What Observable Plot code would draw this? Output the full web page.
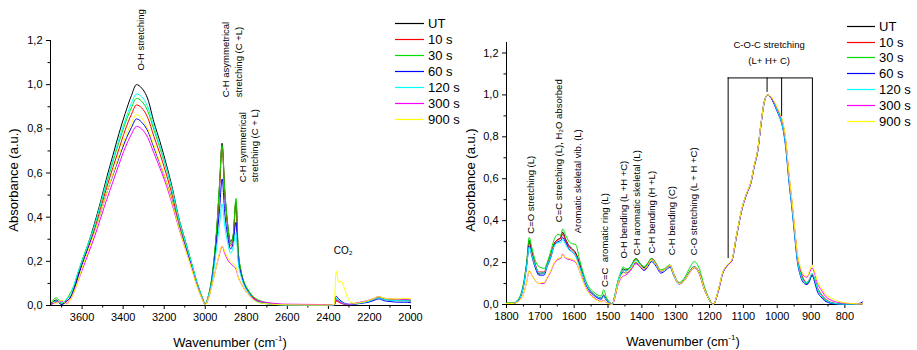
<!DOCTYPE html>
<html>
<head>
<meta charset="utf-8">
<script src="https://cdn.jsdelivr.net/npm/d3@7"></script>
<script src="https://cdn.jsdelivr.net/npm/@observablehq/plot@0.6"></script>
<style>
  body { margin: 0; background: #fff; }
  #wrap { position: relative; width: 917px; height: 350px; font-family: "Liberation Sans", Arial, sans-serif; color: #000; overflow: hidden; }
  .panel { position: absolute; top: 0; }
  .ttl { position: absolute; white-space: nowrap; font-size: 13px; transform: translate(-50%, -50%); }
  .ttl.rot { transform: translate(-50%, -50%) rotate(-90deg); }
  .ttl sup { font-size: 8px; }
  .legend { position: absolute; font-size: 13px; }
  .legend .row { display: flex; align-items: center; }
  .legend svg { display: block; margin-right: 4px; }
</style>
</head>
<body>
<div id="wrap">
  <div id="left" class="panel" style="left:0px"></div>
  <div id="right" class="panel" style="left:458px"></div>
  <div class="ttl rot" style="left:13px; top:180px">Absorbance (a.u.)</div>
  <div class="ttl" style="left:230px; top:342px">Wavenumber (cm<sup>-1</sup>)</div>
  <div class="ttl rot" style="left:470px; top:180px">Absorbance (a.u.)</div>
  <div class="ttl" style="left:683px; top:341px">Wavenumber (cm<sup>-1</sup>)</div>
  <div id="legL" class="legend" style="left:395px; top:15px"></div>
  <div id="legR" class="legend" style="left:847px; top:18.5px"></div>
</div>
<script>
// ---------- series names and colours ----------
const SERIES = ["UT", "10 s", "30 s", "60 s", "120 s", "300 s", "900 s"];
const COLORS = ["#000000", "#ff0000", "#00e000", "#0000ff", "#00ffff", "#ff00ff", "#ffff00"];

// ---------- left panel: 3750–2000 cm-1 ----------
const L_X = [3750, 3725, 3700, 3675, 3655, 3640, 3620, 3600, 3570, 3540,
             3510, 3480, 3450, 3420, 3390, 3360, 3335, 3310, 3280, 3250,
             3220, 3190, 3160, 3130, 3100, 3070, 3040, 3015, 3000, 2985,
             2965, 2945, 2930, 2918, 2905, 2890, 2877, 2865, 2850, 2840,
             2825, 2810, 2790, 2765, 2740, 2700, 2650, 2600, 2500, 2400,
             2372, 2362, 2350, 2338, 2325, 2310, 2292, 2270, 2240, 2200,
             2175, 2155, 2130, 2100, 2060, 2030, 2000];
const L_UT = [0.01, 0.025, 0.005, 0.02, 0.04, 0.08, 0.14, 0.20, 0.28, 0.37,
              0.47, 0.58, 0.68, 0.78, 0.87, 0.95, 1.00, 0.985, 0.935, 0.83,
              0.74, 0.64, 0.53, 0.40, 0.30, 0.20, 0.10, 0.035, 0.005, 0.04,
              0.14, 0.33, 0.55, 0.735, 0.52, 0.36, 0.29, 0.31, 0.47, 0.25,
              0.15, 0.10, 0.065, 0.035, 0.02, 0.01, 0.005, 0.003, 0.002, 0.002,
              0.002, 0.025, 0.02, 0.012, 0.008, 0.005, 0.004, 0.008, 0.012, 0.02,
              0.03, 0.035, 0.028, 0.025, 0.022, 0.022, 0.02];
const L_10 = [0.005, 0.02, 0.01, 0.02, 0.04, 0.07, 0.13, 0.19, 0.265, 0.345,
              0.44, 0.535, 0.625, 0.71, 0.795, 0.865, 0.908, 0.895, 0.85, 0.765,
              0.685, 0.595, 0.495, 0.38, 0.285, 0.195, 0.1, 0.035, 0.005, 0.04,
              0.14, 0.33, 0.54, 0.72, 0.51, 0.35, 0.27, 0.30, 0.47, 0.25,
              0.15, 0.10, 0.065, 0.035, 0.02, 0.01, 0.005, 0.003, 0.002, 0.002,
              0.002, 0.02, 0.015, 0.01, 0.006, 0.004, 0.004, 0.008, 0.013, 0.022,
              0.03, 0.036, 0.03, 0.026, 0.024, 0.025, 0.022];
const L_30 = [0.015, 0.035, 0.01, 0.03, 0.06, 0.09, 0.15, 0.205, 0.28, 0.36,
              0.455, 0.555, 0.65, 0.74, 0.825, 0.895, 0.938, 0.925, 0.88, 0.795,
              0.71, 0.62, 0.515, 0.395, 0.3, 0.205, 0.105, 0.04, 0.008, 0.045,
              0.15, 0.34, 0.56, 0.725, 0.52, 0.36, 0.28, 0.31, 0.485, 0.26,
              0.155, 0.105, 0.07, 0.04, 0.025, 0.012, 0.006, 0.004, 0.003, 0.002,
              0.002, 0.03, 0.02, 0.012, 0.008, 0.005, 0.005, 0.009, 0.014, 0.023,
              0.032, 0.038, 0.03, 0.027, 0.025, 0.026, 0.024];
const L_60 = [0.01, 0.02, 0.005, 0.02, 0.04, 0.07, 0.13, 0.185, 0.26, 0.335,
              0.42, 0.51, 0.59, 0.67, 0.745, 0.805, 0.845, 0.83, 0.79, 0.715,
              0.64, 0.56, 0.47, 0.365, 0.275, 0.19, 0.095, 0.033, 0.005, 0.035,
              0.13, 0.29, 0.44, 0.573, 0.42, 0.31, 0.256, 0.28, 0.377, 0.22,
              0.14, 0.095, 0.06, 0.03, 0.015, 0.008, 0.004, 0.002, 0.001, 0.001,
              0.003, 0.042, 0.03, 0.02, 0.012, 0.006, 0.004, 0.006, 0.01, 0.016,
              0.024, 0.03, 0.022, 0.018, 0.015, 0.015, 0.013];
const L_120 = [0.005, 0.02, 0.01, 0.03, 0.05, 0.09, 0.15, 0.20, 0.28, 0.36,
               0.46, 0.565, 0.66, 0.755, 0.84, 0.915, 0.958, 0.945, 0.9, 0.81,
               0.72, 0.625, 0.52, 0.395, 0.295, 0.2, 0.1, 0.035, 0.005, 0.04,
               0.12, 0.26, 0.37, 0.46, 0.36, 0.28, 0.237, 0.26, 0.33, 0.20,
               0.13, 0.09, 0.06, 0.03, 0.015, 0.008, 0.004, 0.002, 0.002, 0.002,
               0.002, 0.032, 0.025, 0.015, 0.01, 0.006, 0.005, 0.008, 0.012, 0.02,
               0.03, 0.034, 0.028, 0.024, 0.022, 0.022, 0.02];
const L_300 = [0.005, 0.015, 0.02, 0.01, 0.03, 0.06, 0.11, 0.16, 0.235, 0.31,
               0.395, 0.48, 0.56, 0.64, 0.715, 0.775, 0.811, 0.8, 0.76, 0.69,
               0.62, 0.545, 0.455, 0.355, 0.265, 0.18, 0.09, 0.03, 0.005, 0.03,
               0.1, 0.18, 0.235, 0.268, 0.235, 0.205, 0.19, 0.18, 0.165, 0.13,
               0.1, 0.075, 0.05, 0.03, 0.02, 0.014, 0.008, 0.006, 0.005, 0.004,
               0.004, 0.025, 0.02, 0.012, 0.008, 0.006, 0.006, 0.01, 0.016, 0.025,
               0.034, 0.04, 0.033, 0.03, 0.028, 0.028, 0.026];
const L_900 = [0.02, 0.01, 0.025, 0.005, 0.03, 0.06, 0.11, 0.17, 0.25, 0.33,
               0.42, 0.51, 0.595, 0.68, 0.76, 0.825, 0.864, 0.85, 0.8, 0.725,
               0.645, 0.56, 0.465, 0.36, 0.265, 0.175, 0.085, 0.028, 0.003, 0.03,
               0.1, 0.18, 0.24, 0.271, 0.245, 0.215, 0.2, 0.19, 0.175, 0.13,
               0.1, 0.075, 0.05, 0.025, 0.012, 0.008, 0.004, 0.003, 0.002, 0.002,
               0.005, 0.155, 0.105, 0.11, 0.085, 0.045, 0.015, 0.01, 0.014, 0.024,
               0.034, 0.04, 0.034, 0.03, 0.03, 0.032, 0.03];

// ---------- right panel: 1800–750 cm-1 ----------
const R_X = [1800, 1780, 1765, 1750, 1740, 1733, 1725, 1715, 1704, 1695,
             1689, 1680, 1670, 1659, 1648, 1640, 1634, 1625, 1615, 1605,
             1595, 1585, 1575, 1565, 1555, 1543, 1530, 1520, 1513, 1505,
             1496, 1487, 1480, 1472, 1462, 1455, 1448, 1440, 1430, 1418,
             1405, 1393, 1382, 1371, 1358, 1344, 1330, 1317, 1305, 1290,
             1275, 1260, 1245, 1230, 1216, 1200, 1189, 1175, 1161, 1145,
             1134, 1120, 1102, 1090, 1078, 1068, 1058, 1048, 1039, 1029,
             1020, 1009, 1000, 990, 984, 975, 965, 956, 948, 941,
             932, 920, 912, 905, 897, 890, 881, 870, 860, 851,
             840, 831, 820, 800, 780, 760, 748];
const R_UT = [0.005, 0.005, 0.02, 0.09, 0.2, 0.305, 0.25, 0.19, 0.145, 0.15,
              0.15, 0.19, 0.23, 0.29, 0.31, 0.32, 0.345, 0.31, 0.28, 0.265,
              0.245, 0.2, 0.15, 0.1, 0.07, 0.05, 0.035, 0.03, 0.045, 0.025,
              0.01, 0.002, 0.04, 0.1, 0.15, 0.17, 0.165, 0.17, 0.19, 0.22,
              0.195, 0.175, 0.195, 0.22, 0.195, 0.16, 0.17, 0.185, 0.14, 0.1,
              0.115, 0.155, 0.18, 0.15, 0.08, 0.02, 0.0, 0.06, 0.15, 0.19,
              0.21, 0.33, 0.47, 0.53, 0.58, 0.66, 0.73, 0.86, 0.96, 1.0,
              0.99, 0.96, 0.93, 0.895, 0.86, 0.77, 0.6, 0.47, 0.34, 0.23,
              0.16, 0.11, 0.10, 0.115, 0.14, 0.12, 0.075, 0.045, 0.025, 0.015,
              0.008, 0.005, 0.003, 0.002, 0.002, 0.002, 0.005];
const R_10 = [0.005, 0.005, 0.02, 0.09, 0.2, 0.295, 0.245, 0.19, 0.155, 0.155,
              0.155, 0.19, 0.235, 0.29, 0.31, 0.315, 0.335, 0.305, 0.275, 0.26,
              0.24, 0.195, 0.145, 0.1, 0.07, 0.05, 0.035, 0.03, 0.04, 0.022,
              0.01, 0.002, 0.04, 0.1, 0.145, 0.165, 0.16, 0.165, 0.185, 0.215,
              0.19, 0.17, 0.19, 0.215, 0.19, 0.16, 0.17, 0.185, 0.14, 0.1,
              0.115, 0.15, 0.175, 0.145, 0.075, 0.02, 0.0, 0.06, 0.15, 0.19,
              0.21, 0.33, 0.47, 0.53, 0.58, 0.66, 0.73, 0.86, 0.96, 1.0,
              0.99, 0.96, 0.93, 0.895, 0.865, 0.775, 0.605, 0.475, 0.345, 0.235,
              0.165, 0.115, 0.105, 0.12, 0.145, 0.125, 0.08, 0.05, 0.03, 0.018,
              0.01, 0.006, 0.004, 0.002, 0.002, 0.002, 0.004];
const R_30 = [0.008, 0.008, 0.025, 0.1, 0.21, 0.32, 0.27, 0.21, 0.18, 0.175,
              0.17, 0.2, 0.25, 0.31, 0.335, 0.33, 0.36, 0.33, 0.3, 0.29,
              0.285, 0.22, 0.16, 0.11, 0.08, 0.06, 0.045, 0.04, 0.07, 0.035,
              0.012, 0.002, 0.045, 0.105, 0.155, 0.18, 0.17, 0.17, 0.19, 0.22,
              0.195, 0.18, 0.2, 0.22, 0.195, 0.165, 0.175, 0.19, 0.145, 0.105,
              0.125, 0.17, 0.205, 0.17, 0.09, 0.025, 0.0, 0.06, 0.15, 0.19,
              0.21, 0.33, 0.47, 0.53, 0.58, 0.66, 0.73, 0.86, 0.96, 1.0,
              0.99, 0.96, 0.93, 0.89, 0.855, 0.765, 0.595, 0.465, 0.335, 0.225,
              0.155, 0.108, 0.10, 0.115, 0.14, 0.12, 0.075, 0.045, 0.025, 0.015,
              0.008, 0.005, 0.003, 0.002, 0.002, 0.002, 0.004];
const R_60 = [0.005, 0.005, 0.02, 0.085, 0.19, 0.28, 0.23, 0.175, 0.14, 0.14,
              0.14, 0.18, 0.22, 0.28, 0.3, 0.305, 0.32, 0.295, 0.265, 0.25,
              0.23, 0.19, 0.14, 0.095, 0.065, 0.045, 0.03, 0.025, 0.04, 0.02,
              0.008, 0.0, 0.035, 0.09, 0.14, 0.155, 0.15, 0.155, 0.175, 0.2,
              0.18, 0.162, 0.182, 0.205, 0.182, 0.15, 0.162, 0.178, 0.135, 0.098,
              0.112, 0.15, 0.178, 0.148, 0.078, 0.02, 0.0, 0.06, 0.15, 0.19,
              0.21, 0.33, 0.47, 0.53, 0.58, 0.66, 0.73, 0.86, 0.96, 1.0,
              0.99, 0.955, 0.92, 0.88, 0.845, 0.75, 0.58, 0.45, 0.32, 0.21,
              0.14, 0.1, 0.095, 0.11, 0.14, 0.11, 0.06, 0.035, 0.018, 0.01,
              0.005, 0.003, 0.002, 0.002, 0.002, 0.004, 0.012];
const R_120 = [0.005, 0.005, 0.02, 0.085, 0.19, 0.275, 0.235, 0.185, 0.15, 0.15,
               0.15, 0.185, 0.225, 0.28, 0.295, 0.295, 0.31, 0.285, 0.26, 0.25,
               0.23, 0.185, 0.14, 0.1, 0.07, 0.05, 0.035, 0.03, 0.04, 0.022,
               0.01, 0.002, 0.04, 0.1, 0.15, 0.165, 0.16, 0.165, 0.185, 0.21,
               0.19, 0.17, 0.19, 0.21, 0.188, 0.158, 0.168, 0.182, 0.138, 0.1,
               0.114, 0.152, 0.178, 0.148, 0.078, 0.02, 0.0, 0.06, 0.15, 0.19,
               0.21, 0.33, 0.47, 0.53, 0.58, 0.66, 0.73, 0.86, 0.96, 1.0,
               0.99, 0.96, 0.925, 0.885, 0.85, 0.76, 0.59, 0.46, 0.33, 0.22,
               0.15, 0.11, 0.105, 0.12, 0.15, 0.125, 0.075, 0.045, 0.025, 0.015,
               0.008, 0.005, 0.003, 0.002, 0.002, 0.002, 0.004];
const R_300 = [0.005, 0.005, 0.015, 0.05, 0.11, 0.16, 0.14, 0.115, 0.1, 0.1,
               0.1, 0.125, 0.155, 0.195, 0.215, 0.22, 0.24, 0.22, 0.215, 0.21,
               0.2, 0.165, 0.12, 0.08, 0.055, 0.035, 0.02, 0.015, 0.02, 0.01,
               0.005, 0.0, 0.03, 0.085, 0.125, 0.135, 0.14, 0.15, 0.17, 0.195,
               0.18, 0.168, 0.19, 0.215, 0.19, 0.158, 0.17, 0.185, 0.14, 0.1,
               0.113, 0.15, 0.177, 0.148, 0.078, 0.02, 0.0, 0.06, 0.15, 0.19,
               0.21, 0.33, 0.47, 0.53, 0.58, 0.66, 0.73, 0.86, 0.96, 1.0,
               0.99, 0.965, 0.935, 0.9, 0.87, 0.785, 0.615, 0.485, 0.355, 0.245,
               0.175, 0.135, 0.13, 0.15, 0.175, 0.15, 0.1, 0.07, 0.045, 0.03,
               0.02, 0.014, 0.01, 0.006, 0.004, 0.003, 0.003];
const R_900 = [0.005, 0.005, 0.015, 0.05, 0.11, 0.163, 0.14, 0.115, 0.1, 0.105,
               0.105, 0.13, 0.16, 0.2, 0.22, 0.225, 0.235, 0.225, 0.22, 0.215,
               0.205, 0.165, 0.115, 0.075, 0.05, 0.03, 0.018, 0.012, 0.02, 0.008,
               0.003, 0.0, 0.035, 0.09, 0.135, 0.15, 0.15, 0.158, 0.178, 0.205,
               0.185, 0.17, 0.19, 0.215, 0.19, 0.16, 0.17, 0.188, 0.14, 0.1,
               0.113, 0.15, 0.177, 0.148, 0.078, 0.02, 0.0, 0.065, 0.155, 0.195,
               0.215, 0.335, 0.475, 0.535, 0.585, 0.665, 0.735, 0.865, 0.96, 1.0,
               0.995, 0.97, 0.94, 0.905, 0.875, 0.79, 0.62, 0.49, 0.36, 0.25,
               0.18, 0.14, 0.135, 0.16, 0.187, 0.16, 0.11, 0.08, 0.055, 0.04,
               0.03, 0.022, 0.015, 0.008, 0.005, 0.003, 0.003];

// ---------- ticks ----------
const L_XTICKS = [3600, 3400, 3200, 3000, 2800, 2600, 2400, 2200, 2000];
const L_XMINOR = [3700, 3500, 3300, 3100, 2900, 2700, 2500, 2300, 2100];
const R_XTICKS = [1800, 1700, 1600, 1500, 1400, 1300, 1200, 1100, 1000, 900, 800];
const R_XMINOR = [1750, 1650, 1550, 1450, 1350, 1250, 1150, 1050, 950, 850];
const YTICKS = [0, 0.2, 0.4, 0.6, 0.8, 1.0, 1.2];
const YMINOR = [0.1, 0.3, 0.5, 0.7, 0.9, 1.1];

// ---------- annotations ----------
const L_ANN_TEXT = ["O-H stretching", "C-H asymmetrical\nstretching (C +L)", "C-H symmetrical\nstretching (C + L)"];
const L_ANN_WN = [3316, 2872, 2793];
const L_ANN_Y = [1.064, 0.943, 0.558];
const CO2_TEXT = ["CO\u2082"];
const CO2_WN = [2328];
const CO2_Y = [0.249];

const R_ANN_TEXT = ["C=O stretching (L)", "C=C stretching (L), H\u2082O absorbed", "Aromatic skeletal vib. (L)",
                    "C=C  aromatic ring (L)", "O-H bending (L +H +C)", "C-H aromatic skeletal (L)",
                    "C-H bending (H +L)", "C-H bending (C)", "C-O stretching (L + H +C)"];
const R_ANN_WN = [1728, 1644, 1588, 1509, 1452, 1415, 1370, 1312, 1245];
const R_ANN_Y = [0.338, 0.393, 0.34, 0.084, 0.219, 0.235, 0.243, 0.235, 0.235];
const COC_TEXT = ["C-O-C stretching", "(L+ H+ C)"];
const COC_WN = [1024, 1024];
const COC_Y = [1.238, 1.163];
const BR_TOP = 1.081;
const BR_X = [1145, 1030, 987, 896];
const BR_BOTTOM = [0.219, 1.012, 0.897, 0.187];

// ---------- drawing ----------
const FONT = '"Liberation Sans", Arial, sans-serif';
const fmtY = d => d.toFixed(1).replace(".", ",");
const rows = (xs, ys) => xs.map((x, i) => ({x, y: ys[i]}));

function panel(o) {
  const marks = [
    Plot.axisY({ticks: YMINOR, tickSize: 2.5, tickFormat: () => "", label: null}),
    Plot.axisY({ticks: YTICKS, tickSize: 4, tickPadding: 4, tickFormat: fmtY, label: null}),
    Plot.axisX({ticks: o.xMinor, tickSize: 2.5, tickFormat: () => "", label: null}),
    Plot.axisX({ticks: o.xTicks, tickSize: 4, tickPadding: 4, tickFormat: d => String(d), label: null}),
    Plot.ruleX([o.xDomain[0]], {stroke: "black"}),
    Plot.ruleY([0], {stroke: "black"})
  ];
  o.series.forEach((vals, k) => {
    marks.push(Plot.line(rows(o.X, vals), {x: "x", y: "y", stroke: COLORS[k], strokeWidth: 1, curve: "monotone-x"}));
  });
  marks.push(...o.extra);
  return Plot.plot({
    width: o.width, height: 350,
    marginLeft: o.ml, marginRight: o.mr, marginTop: o.mt, marginBottom: o.mb,
    style: {fontFamily: FONT, fontSize: "11px", background: "white", color: "black", overflow: "visible"},
    x: {domain: o.xDomain, label: null},
    y: {domain: o.yDomain, label: null},
    marks
  });
}

const annRows = (t, xs, ys) => t.map((s, i) => ({t: s, x: xs[i], y: ys[i]}));

const left = panel({
  width: 458, ml: 50, mr: 48, mt: 40, mb: 45,
  xDomain: [3754, 2000], yDomain: [0, 1.2],
  xTicks: L_XTICKS, xMinor: L_XMINOR,
  X: L_X, series: [L_UT, L_10, L_30, L_60, L_120, L_300, L_900],
  extra: [
    Plot.text(annRows(L_ANN_TEXT, L_ANN_WN, L_ANN_Y), {x: "x", y: "y", text: "t", rotate: -90, textAnchor: "start",
      fontSize: 9.5, lineHeight: 1.3, fill: "black", fontFamily: FONT}),
    Plot.text(annRows(CO2_TEXT, CO2_WN, CO2_Y), {x: "x", y: "y", text: "t", textAnchor: "middle",
      fontSize: 10, fill: "black", fontFamily: FONT})
  ]
});

const right = panel({
  width: 459, ml: 48, mr: 55, mt: 42, mb: 46,
  xDomain: [1800, 748], yDomain: [0, 1.25],
  xTicks: R_XTICKS, xMinor: R_XMINOR,
  X: R_X, series: [R_UT, R_10, R_30, R_60, R_120, R_300, R_900],
  extra: [
    Plot.ruleY([{y: BR_TOP, x1: BR_X[0], x2: BR_X[BR_X.length - 1]}], {y: "y", x1: "x1", x2: "x2", stroke: "black"}),
    Plot.ruleX(BR_X.map((x, i) => ({x, y1: BR_BOTTOM[i], y2: BR_TOP})), {x: "x", y1: "y1", y2: "y2", stroke: "black"}),
    Plot.text(annRows(R_ANN_TEXT, R_ANN_WN, R_ANN_Y), {x: "x", y: "y", text: "t", rotate: -90, textAnchor: "start",
      fontSize: 9.5, fill: "black", fontFamily: FONT}),
    Plot.text(annRows(COC_TEXT, COC_WN, COC_Y), {x: "x", y: "y", text: "t", textAnchor: "middle",
      fontSize: 9.5, fill: "black", fontFamily: FONT})
  ]
});

document.getElementById("left").appendChild(left);
document.getElementById("right").appendChild(right);

const SVGNS = "http://www.w3.org/2000/svg";
function legend(id, lineW, rowH) {
  const el = document.getElementById(id);
  SERIES.forEach((name, k) => {
    const row = document.createElement("div");
    row.className = "row";
    row.style.height = rowH + "px";
    const svg = document.createElementNS(SVGNS, "svg");
    svg.setAttribute("width", lineW);
    svg.setAttribute("height", 3);
    const ln = document.createElementNS(SVGNS, "line");
    ln.setAttribute("x1", 0); ln.setAttribute("x2", lineW);
    ln.setAttribute("y1", 1.5); ln.setAttribute("y2", 1.5);
    ln.setAttribute("stroke", COLORS[k]);
    ln.setAttribute("stroke-width", 1.2);
    svg.appendChild(ln);
    const tx = document.createElement("span");
    tx.textContent = name;
    row.appendChild(svg);
    row.appendChild(tx);
    el.appendChild(row);
  });
}
legend("legL", 29, 16);
legend("legR", 28, 15.8);
</script>
</body>
</html>
